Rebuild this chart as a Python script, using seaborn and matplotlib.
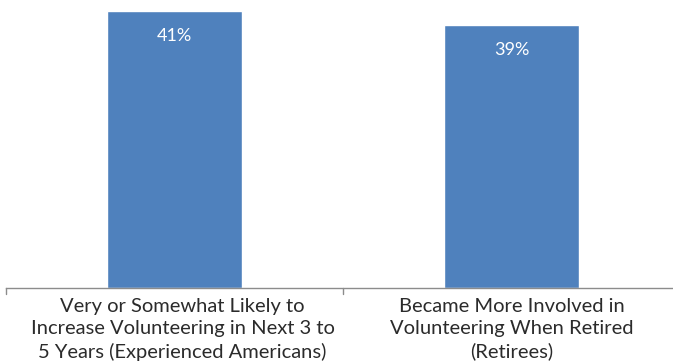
import matplotlib
matplotlib.use("Agg")
import matplotlib.pyplot as plt
import matplotlib.transforms as mtransforms
import seaborn as sns
import pandas as pd

categories = [
    "Very or Somewhat Likely to\nIncrease Volunteering in Next 3 to\n5 Years (Experienced Americans)",
    "Became More Involved in\nVolunteering When Retired\n(Retirees)",
]
values = [41, 39]
value_labels = ["41%", "39%"]

df = pd.DataFrame({"category": categories, "value": values})

sns.set_style("white")
plt.rcParams["font.family"] = ["Lato", "DejaVu Sans"]

fig = plt.figure(figsize=(6.73, 3.62), dpi=100)
W, H = 673, 362
ax = fig.add_axes([6 / W, (H - 288) / H, (W - 6) / W, 288 / H])

sns.barplot(data=df, x="category", y="value", color="#4F81BD", width=0.4,
            saturation=1, ax=ax)

unit = 337.0
ax.set_xlim(-0.5, -0.5 + (W - 6) / unit)
ax.set_ylim(0, 288 / 6.755)

for i, (v, lab) in enumerate(zip(values, value_labels)):
    ax.annotate(lab, xy=(i, v), xytext=(0, -18), textcoords="offset points",
                ha="center", va="center", color="white", fontsize=13)

for s in ["top", "right", "left"]:
    ax.spines[s].set_visible(False)
ax.spines["bottom"].set_color("#8c8c8c")
ax.spines["bottom"].set_linewidth(1.0)

ax.set_yticks([])
ax.set_xticks([0, 1])
ax.set_xticklabels(categories, fontsize=14.5, color="#2b2b2b", linespacing=1.38)
ax.tick_params(axis="x", length=0, pad=7)
# first label sits slightly right of its bar
first = ax.get_xticklabels()[0]
first.set_transform(first.get_transform() +
                    mtransforms.ScaledTranslation(8 / 100, 0, fig.dpi_scale_trans))
for xb in [-0.5, 0.5, 1.5]:
    ax.plot([xb, xb], [0, -0.9], color="#8c8c8c", lw=1.0, clip_on=False)
ax.set_xlabel("")
ax.set_ylabel("")

fig.savefig("out.png", dpi=100)
